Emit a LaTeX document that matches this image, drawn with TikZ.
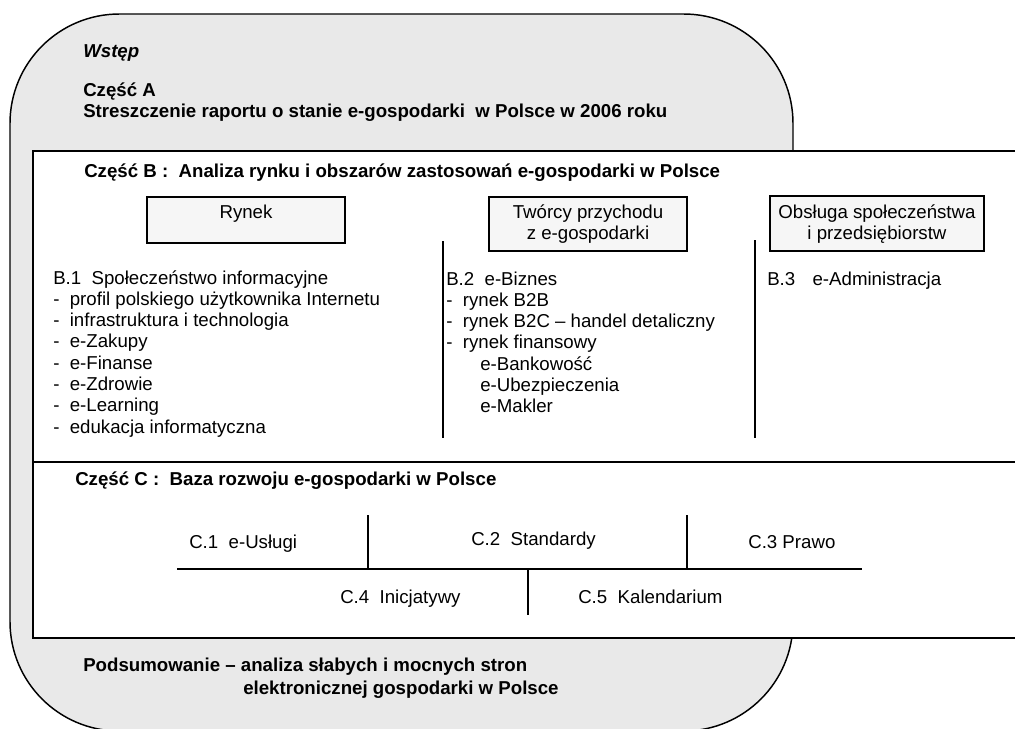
\documentclass[tikz,border=0pt]{standalone}
\usepackage{fontspec}
\setmainfont{Liberation Sans}
\definecolor{shellgray}{HTML}{E9E9E9}
\definecolor{boxgray}{HTML}{F6F6F6}
\tikzset{
  txt/.style={inner sep=0pt, anchor=base west, font=\fontsize{14}{16}\selectfont},
  hd/.style={txt, font=\fontsize{14}{16}\selectfont\bfseries},
  mid/.style={txt, anchor=base},
  shell/.style={draw, line width=1.1pt, fill=shellgray, rounded corners=82pt},
  frame/.style={draw, line width=1.4pt},
  catbox/.style={draw, line width=1.4pt, fill=boxgray},
  divider/.style={line width=1.4pt}
}
\begin{document}
\begin{tikzpicture}[x=0.75pt,y=-0.75pt]
  \useasboundingbox (0,0) rectangle (1015,729);
  % outer shell and the frame of parts B and C
  \filldraw[shell] (10,14) rectangle (793,731);
  \filldraw[frame, fill=white] (33,151) rectangle (1030,638);
  \draw[frame] (33,462) -- (1030,462);

  \node[hd, font=\fontsize{14}{16}\selectfont\bfseries\itshape] (wstep) at (83,57) {Wstęp};
  \node[hd] (czescA) at (83,96) {Część A};
  \node[hd] (streszcz) at (83,117) {Streszczenie raportu o stanie e-gospodarki~~w Polsce w 2006 roku};

  % part B
  \node[hd] (czescB) at (84,177) {Część B :~~Analiza rynku i obszarów zastosowań e-gospodarki w Polsce};
  \draw[catbox] (147,197) rectangle (345,243);
  \draw[catbox] (489,197) rectangle (687,251);
  \draw[catbox] (770,196) rectangle (984,251);
  \node[mid] (rynek) at (246,218) {Rynek};
  \node[mid] (tworcy) at (588,218) {Twórcy przychodu};
  \node[mid] (tworcyb) at (588,239) {z e-gospodarki};
  \node[mid] (obsluga) at (877,218) {Obsługa społeczeństwa};
  \node[mid] (obslugab) at (877,239) {i przedsiębiorstw};
  \draw[divider] (443,241) -- (443,438);
  \draw[divider] (755,240) -- (755,438);

  \foreach \t [count=\i from 0] in {B.1~~Społeczeństwo informacyjne,
      -~~profil polskiego użytkownika Internetu, -~~infrastruktura i technologia,
      -~~e-Zakupy, -~~e-Finanse, -~~e-Zdrowie, -~~e-Learning,
      -~~edukacja informatyczna}
    \node[txt] (bone-\i) at (53,{284+21.3*\i}) {\t};
  \foreach \t [count=\i from 0] in {B.2~~e-Biznes, -~~rynek B2B,
      -~~rynek B2C – handel detaliczny, -~~rynek finansowy,
      \hspace{25.5pt}e-Bankowość, \hspace{25.5pt}e-Ubezpieczenia,
      \hspace{25.5pt}e-Makler}
    \node[txt] (btwo-\i) at (446,{285+21.3*\i}) {\t};
  \node[txt] (bthree) at (767,285) {B.3\hspace{13pt}e-Administracja};

  % part C
  \node[hd] (czescC) at (75,485) {Część C :~~Baza rozwoju e-gospodarki w Polsce};
  \draw[divider] (177,569) -- (862,569);
  \draw[divider] (368,515) -- (368,569);
  \draw[divider] (687,515) -- (687,569);
  \draw[divider] (528,569) -- (528,615);
  \node[txt] (cone) at (189,548) {C.1~~e-Usługi};
  \node[txt] (ctwo) at (471,545) {C.2~~Standardy};
  \node[txt] (cthree) at (748,548) {C.3 Prawo};
  \node[txt] (cfour) at (340,603) {C.4~~Inicjatywy};
  \node[txt] (cfive) at (578,603) {C.5~~Kalendarium};

  \node[hd] (podsum) at (83,671) {Podsumowanie – analiza słabych i mocnych stron};
  \node[hd] (podsumb) at (243,694) {elektronicznej gospodarki w Polsce};
\end{tikzpicture}
\end{document}
